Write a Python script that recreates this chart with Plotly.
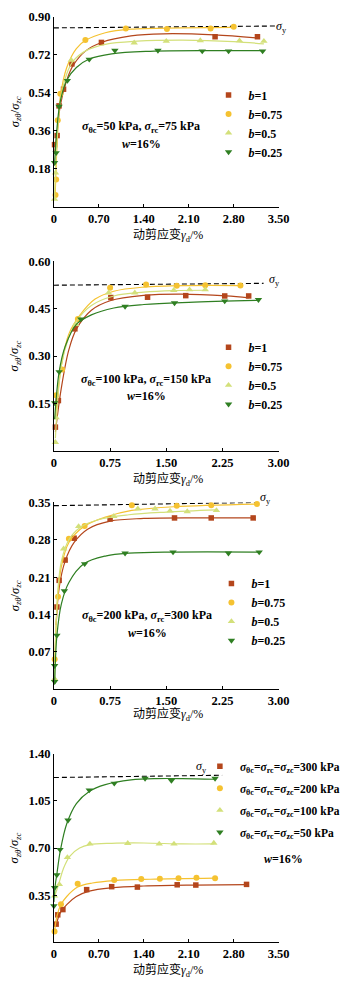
import plotly.graph_objects as go

# ---------------- data ----------------
# Panel 1: sigma_theta_c=50 kPa, sigma_rc=75 kPa
p1_b1_x = [0.01, 0.05, 0.08, 0.15, 0.28, 0.74, 2.51, 3.17]
p1_b1_y = [0.294, 0.337, 0.478, 0.557, 0.677, 0.779, 0.806, 0.806]
p1_b075_x = [0.025, 0.035, 0.06, 0.10, 0.49, 1.12, 1.76, 2.44, 2.80]
p1_b075_y = [0.055, 0.129, 0.41, 0.535, 0.79, 0.845, 0.843, 0.845, 0.853]
p1_b05_x = [0.01, 0.025, 0.27, 1.25, 1.75, 2.28, 2.89, 3.27]
p1_b05_y = [0.035, 0.16, 0.695, 0.777, 0.785, 0.788, 0.787, 0.785]
p1_b025_x = [0.01, 0.035, 0.08, 0.21, 0.55, 0.95, 1.62, 2.31, 2.72, 3.25]
p1_b025_y = [0.208, 0.255, 0.475, 0.598, 0.699, 0.741, 0.741, 0.738, 0.738, 0.738]
p1_fit_b1_x = [0.01, 0.05, 0.1, 0.2, 0.3, 0.5, 0.75, 1.2, 1.7, 2.5, 3.17]
p1_fit_b1_y = [0.25, 0.35, 0.48, 0.6, 0.67, 0.74, 0.78, 0.81, 0.82, 0.815, 0.80]
p1_fit_b075_x = [0.02, 0.05, 0.1, 0.2, 0.35, 0.5, 0.8, 1.2, 2.0, 2.8]
p1_fit_b075_y = [0.05, 0.3, 0.52, 0.66, 0.75, 0.79, 0.825, 0.842, 0.848, 0.85]
p1_fit_b05_x = [0.01, 0.05, 0.1, 0.2, 0.3, 0.5, 0.8, 1.3, 2.0, 2.8, 3.27]
p1_fit_b05_y = [0.04, 0.33, 0.5, 0.63, 0.69, 0.74, 0.77, 0.785, 0.79, 0.783, 0.772]
p1_fit_b025_x = [0.01, 0.05, 0.1, 0.2, 0.35, 0.55, 0.9, 1.5, 2.5, 3.25]
p1_fit_b025_y = [0.2, 0.38, 0.5, 0.6, 0.66, 0.70, 0.725, 0.737, 0.74, 0.74]
p1_sy_x = [0.0, 3.5]
p1_sy_y = [0.848, 0.857]

# Panel 2: sigma_theta_c=100 kPa, sigma_rc=150 kPa
p2_b1_x = [0.02, 0.06, 0.28, 0.76, 1.25, 1.76, 2.28, 2.60]
p2_b1_y = [0.075, 0.159, 0.386, 0.485, 0.486, 0.491, 0.490, 0.490]
p2_b075_x = [0.03, 0.11, 0.32, 0.75, 1.23, 1.64, 2.02, 2.49]
p2_b075_y = [0.176, 0.257, 0.417, 0.516, 0.526, 0.522, 0.524, 0.523]
p2_b05_x = [0.02, 0.03, 0.29, 0.73, 1.08, 1.60, 1.81, 2.02]
p2_b05_y = [0.027, 0.105, 0.40, 0.50, 0.50, 0.508, 0.51, 0.51]
p2_b025_x = [0.01, 0.07, 0.36, 0.95, 1.61, 2.28, 2.73]
p2_b025_y = [0.152, 0.25, 0.417, 0.457, 0.468, 0.474, 0.478]
p2_fit_b1_x = [0.02, 0.1, 0.2, 0.3, 0.5, 0.75, 1.2, 1.7, 2.3, 2.6]
p2_fit_b1_y = [0.06, 0.2, 0.32, 0.385, 0.445, 0.475, 0.492, 0.496, 0.49, 0.484]
p2_fit_b075_x = [0.02, 0.1, 0.2, 0.35, 0.55, 0.8, 1.2, 1.8, 2.49]
p2_fit_b075_y = [0.1, 0.27, 0.37, 0.43, 0.48, 0.505, 0.518, 0.523, 0.523]
p2_fit_b05_x = [0.02, 0.1, 0.2, 0.3, 0.5, 0.8, 1.2, 1.6, 2.02]
p2_fit_b05_y = [0.04, 0.27, 0.36, 0.41, 0.46, 0.49, 0.502, 0.507, 0.508]
p2_fit_b025_x = [0.01, 0.07, 0.15, 0.3, 0.5, 0.8, 1.2, 1.8, 2.73]
p2_fit_b025_y = [0.1, 0.25, 0.33, 0.4, 0.43, 0.452, 0.463, 0.47, 0.476]
p2_sy_x = [0.0, 2.8]
p2_sy_y = [0.524, 0.530]

# Panel 3: sigma_theta_c=200 kPa, sigma_rc=300 kPa
p3_b1_x = [0.04, 0.07, 0.15, 0.27, 0.75, 1.61, 2.10, 2.66]
p3_b1_y = [0.154, 0.204, 0.242, 0.283, 0.319, 0.321, 0.321, 0.321]
p3_b075_x = [0.01, 0.055, 0.20, 0.41, 1.04, 1.64, 2.10, 2.71]
p3_b075_y = [0.056, 0.173, 0.282, 0.306, 0.345, 0.344, 0.345, 0.347]
p3_b05_x = [0.01, 0.13, 0.33, 0.80, 1.12, 1.35, 1.55, 1.78, 2.17]
p3_b05_y = [0.019, 0.263, 0.305, 0.324, 0.338, 0.338, 0.334, 0.333, 0.335]
p3_b025_x = [0.01, 0.01, 0.04, 0.14, 0.41, 0.95, 1.59, 2.33, 2.74]
p3_b025_y = [0.014, 0.044, 0.101, 0.184, 0.235, 0.255, 0.257, 0.255, 0.257]
p3_fit_b1_x = [0.03, 0.07, 0.15, 0.27, 0.45, 0.75, 1.2, 2.0, 2.66]
p3_fit_b1_y = [0.12, 0.19, 0.24, 0.275, 0.3, 0.315, 0.32, 0.321, 0.321]
p3_fit_b075_x = [0.01, 0.05, 0.1, 0.2, 0.4, 0.7, 1.04, 1.6, 2.71]
p3_fit_b075_y = [0.05, 0.17, 0.23, 0.275, 0.305, 0.323, 0.335, 0.342, 0.347]
p3_fit_b05_x = [0.01, 0.05, 0.1, 0.2, 0.35, 0.6, 1.0, 1.5, 2.17]
p3_fit_b05_y = [0.02, 0.18, 0.24, 0.28, 0.303, 0.318, 0.327, 0.332, 0.336]
p3_fit_b025_x = [0.01, 0.04, 0.1, 0.2, 0.4, 0.7, 1.0, 1.6, 2.74]
p3_fit_b025_y = [0.01, 0.1, 0.16, 0.2, 0.235, 0.25, 0.255, 0.257, 0.257]
p3_sy_x = [0.0, 2.7]
p3_sy_y = [0.344, 0.350]

# Panel 4: isotropic consolidation
p4_300_x = [0.035, 0.06, 0.14, 0.51, 0.90, 1.30, 1.92, 2.21, 3.00]
p4_300_y = [0.135, 0.204, 0.243, 0.391, 0.413, 0.41, 0.427, 0.425, 0.43]
p4_200_x = [0.01, 0.11, 0.37, 0.94, 1.36, 1.65, 1.94, 2.22, 2.51]
p4_200_y = [0.081, 0.283, 0.435, 0.462, 0.469, 0.471, 0.476, 0.48, 0.476]
p4_100_x = [0.01, 0.085, 0.21, 0.56, 1.15, 1.64, 1.87, 2.49]
p4_100_y = [0.344, 0.43, 0.63, 0.73, 0.735, 0.73, 0.73, 0.737]
p4_50_x = [0.0, 0.01, 0.045, 0.095, 0.22, 0.55, 0.94, 1.42, 1.83, 2.51]
p4_50_y = [0.27, 0.405, 0.50, 0.688, 0.906, 1.13, 1.18, 1.216, 1.20, 1.216]
p4_fit_300_x = [0.03, 0.1, 0.2, 0.35, 0.55, 0.9, 1.4, 2.2, 3.0]
p4_fit_300_y = [0.12, 0.22, 0.28, 0.34, 0.38, 0.405, 0.418, 0.425, 0.428]
p4_fit_200_x = [0.01, 0.05, 0.11, 0.2, 0.37, 0.6, 0.94, 1.5, 2.51]
p4_fit_200_y = [0.08, 0.2, 0.28, 0.34, 0.41, 0.44, 0.458, 0.468, 0.476]
p4_fit_100_x = [0.01, 0.08, 0.15, 0.25, 0.4, 0.56, 0.9, 1.4, 2.0, 2.49]
p4_fit_100_y = [0.34, 0.44, 0.55, 0.64, 0.7, 0.725, 0.735, 0.737, 0.73, 0.73]
p4_fit_50_x = [0.0, 0.02, 0.05, 0.1, 0.2, 0.35, 0.55, 0.8, 1.2, 1.6, 2.0, 2.51]
p4_fit_50_y = [0.3, 0.42, 0.52, 0.68, 0.88, 1.03, 1.12, 1.17, 1.205, 1.215, 1.215, 1.21]
p4_sy_x = [0.0, 2.62]
p4_sy_y = [1.223, 1.24]

b_labels = ["<i>b</i>=1", "<i>b</i>=0.75", "<i>b</i>=0.5", "<i>b</i>=0.25"]
p4_labels = ["<i>σ</i><sub>θc</sub>=<i>σ</i><sub>rc</sub>=<i>σ</i><sub>zc</sub>=300 kPa",
             "<i>σ</i><sub>θc</sub>=<i>σ</i><sub>rc</sub>=<i>σ</i><sub>zc</sub>=200 kPa",
             "<i>σ</i><sub>θc</sub>=<i>σ</i><sub>rc</sub>=<i>σ</i><sub>zc</sub>=100 kPa",
             "<i>σ</i><sub>θc</sub>=<i>σ</i><sub>rc</sub>=<i>σ</i><sub>zc</sub>=50 kPa"]

x_ticks_35 = [0, 0.7, 1.4, 2.1, 2.8, 3.5]
x_ticks_30 = [0, 0.75, 1.5, 2.25, 3.0]
y_ticks = [[0.18, 0.36, 0.54, 0.72, 0.90],
           [0.15, 0.30, 0.45, 0.60],
           [0.07, 0.14, 0.21, 0.28, 0.35],
           [0.35, 0.70, 1.05, 1.40]]
x_ranges = [[0, 3.5], [0, 3.0], [0, 3.0], [0, 3.5]]
y_ranges = [[0, 0.90], [0, 0.60], [0, 0.35], [0, 1.40]]
notes = ["<i>σ</i><sub>θc</sub>=50 kPa, <i>σ</i><sub>rc</sub>=75 kPa",
         "<i>σ</i><sub>θc</sub>=100 kPa, <i>σ</i><sub>rc</sub>=150 kPa",
         "<i>σ</i><sub>θc</sub>=200 kPa, <i>σ</i><sub>rc</sub>=300 kPa"]

# ---------------- style ----------------
colors = ["#B4461C", "#F5C231", "#D3E07A", "#2F7F22"]
symbols = ["square", "circle", "triangle-up", "triangle-down"]
msizes = [5.5, 6, 6.5, 6.5]
SERIF = "Liberation Serif, Noto Sans CJK SC"

W, H = 354, 988
x_dom = [53 / W, 287 / W]
pix = [(10, 201), (256, 447), (499, 687), (752, 942)]
y_doms = [[1 - b / H, 1 - t / H] for (t, b) in pix]

fig = go.Figure()

panels = [
    ([(p1_b1_x, p1_b1_y, p1_fit_b1_x, p1_fit_b1_y),
      (p1_b075_x, p1_b075_y, p1_fit_b075_x, p1_fit_b075_y),
      (p1_b05_x, p1_b05_y, p1_fit_b05_x, p1_fit_b05_y),
      (p1_b025_x, p1_b025_y, p1_fit_b025_x, p1_fit_b025_y)], p1_sy_x, p1_sy_y, b_labels),
    ([(p2_b1_x, p2_b1_y, p2_fit_b1_x, p2_fit_b1_y),
      (p2_b075_x, p2_b075_y, p2_fit_b075_x, p2_fit_b075_y),
      (p2_b05_x, p2_b05_y, p2_fit_b05_x, p2_fit_b05_y),
      (p2_b025_x, p2_b025_y, p2_fit_b025_x, p2_fit_b025_y)], p2_sy_x, p2_sy_y, b_labels),
    ([(p3_b1_x, p3_b1_y, p3_fit_b1_x, p3_fit_b1_y),
      (p3_b075_x, p3_b075_y, p3_fit_b075_x, p3_fit_b075_y),
      (p3_b05_x, p3_b05_y, p3_fit_b05_x, p3_fit_b05_y),
      (p3_b025_x, p3_b025_y, p3_fit_b025_x, p3_fit_b025_y)], p3_sy_x, p3_sy_y, b_labels),
    ([(p4_300_x, p4_300_y, p4_fit_300_x, p4_fit_300_y),
      (p4_200_x, p4_200_y, p4_fit_200_x, p4_fit_200_y),
      (p4_100_x, p4_100_y, p4_fit_100_x, p4_fit_100_y),
      (p4_50_x, p4_50_y, p4_fit_50_x, p4_fit_50_y)], p4_sy_x, p4_sy_y, p4_labels),
]

legend_names = ["legend", "legend2", "legend3", "legend4"]

for i, (series, syx, syy, labels) in enumerate(panels):
    xa = "x" if i == 0 else f"x{i+1}"
    ya = "y" if i == 0 else f"y{i+1}"
    fig.add_trace(go.Scatter(x=syx, y=syy, mode="lines", xaxis=xa, yaxis=ya,
                             line=dict(color="black", width=1.1, dash="5px,3px"),
                             showlegend=False, hoverinfo="skip"))
    for j, (mx, my, fx, fy) in enumerate(series):
        fig.add_trace(go.Scatter(x=fx, y=fy, mode="lines", xaxis=xa, yaxis=ya,
                                 line=dict(color=colors[j], width=1.2, shape="spline", smoothing=1.0),
                                 showlegend=False, hoverinfo="skip"))
        fig.add_trace(go.Scatter(x=mx, y=my, mode="markers", xaxis=xa, yaxis=ya,
                                 marker=dict(color=colors[j], symbol=symbols[j], size=msizes[j]),
                                 name=labels[j], legend=legend_names[i],
                                 legendgroup=f"g{i}_{j}", cliponaxis=False))

layout = dict(width=W, height=H, margin=dict(l=0, r=0, t=0, b=0),
              paper_bgcolor="white", plot_bgcolor="white",
              font=dict(family=SERIF, size=12, color="black", weight="bold"))

for i in range(4):
    sfx = "" if i == 0 else str(i + 1)
    xt = x_ticks_35 if i in (0, 3) else x_ticks_30
    xtxt = ["0"] + [f"{v:.2f}" for v in xt[1:]]
    layout["xaxis" + sfx] = dict(domain=x_dom, anchor="y" + sfx, range=x_ranges[i],
                                 tickvals=xt, ticktext=xtxt, showline=True, linecolor="black",
                                 linewidth=1, ticks="inside", ticklen=3, tickcolor="black",
                                 showgrid=False, zeroline=False,
                                 tickfont=dict(family=SERIF, size=12.5, weight="bold"))
    layout["yaxis" + sfx] = dict(domain=y_doms[i], anchor="x" + sfx, range=y_ranges[i],
                                 tickvals=y_ticks[i], ticktext=[f"{v:.2f}" for v in y_ticks[i]],
                                 showline=True, linecolor="black", linewidth=1, ticks="inside",
                                 ticklen=3, tickcolor="black", showgrid=False, zeroline=False,
                                 tickfont=dict(family=SERIF, size=12.5, weight="bold"))

leg_pos = [(214, 74, 0), (214, 328, 0), (217, 566, 0), (205, 750, 3)]
for i, (lx, ly, gap) in enumerate(leg_pos):
    layout[legend_names[i]] = dict(x=lx / W, y=1 - ly / H, xanchor="left", yanchor="top",
                                   bgcolor="rgba(0,0,0,0)", tracegroupgap=gap,
                                   font=dict(family=SERIF, size=12 if i < 3 else 11.5, weight="bold"),
                                   itemsizing="trace")

annotations = []
xlab_y = [230, 476, 713, 970]
ylab_c = [(10 + 201) / 2, (256 + 447) / 2, (499 + 687) / 2, (752 + 942) / 2]
for i in range(4):
    annotations.append(dict(text="动剪应变<i>γ</i><sub>d</sub>/%", x=172 / W, y=1 - xlab_y[i] / H,
                            xref="paper", yref="paper", showarrow=False,
                            xanchor="center", yanchor="middle",
                            font=dict(family=SERIF, size=12, weight="normal")))
    annotations.append(dict(text="<i>σ</i><sub><i>zθ</i></sub>/<i>σ</i><sub><i>zc</i></sub>",
                            x=13 / W, y=1 - ylab_c[i] / H, xref="paper", yref="paper",
                            showarrow=False, textangle=-90, xanchor="center", yanchor="middle",
                            font=dict(family=SERIF, size=12.5, weight="normal")))

sy_lab = [(290, 20), (283, 275), (273, 495), (207, 765)]
for (px, py) in sy_lab:
    annotations.append(dict(text="<i>σ</i><sub>y</sub>", x=px / W, y=1 - py / H,
                            xref="paper", yref="paper", showarrow=False,
                            xanchor="center", yanchor="middle",
                            font=dict(family=SERIF, size=12, weight="normal")))

note_pos = [(1.361, 0.377, 0.295), (1.231, 0.224, 0.173), (1.244, 0.138, 0.105)]
for i, (nx, ny, wy) in enumerate(note_pos):
    sfx = "" if i == 0 else str(i + 1)
    annotations.append(dict(text=notes[i], x=nx, y=ny, xref="x" + sfx, yref="y" + sfx,
                            showarrow=False, xanchor="center", yanchor="middle",
                            font=dict(family=SERIF, size=12, weight="bold")))
    annotations.append(dict(text="<i>w</i>=16%", x=nx, y=wy, xref="x" + sfx, yref="y" + sfx,
                            showarrow=False, xanchor="center", yanchor="middle",
                            font=dict(family=SERIF, size=12, weight="bold")))
annotations.append(dict(text="<i>w</i>=16%", x=292 / W, y=1 - 858 / H, xref="paper", yref="paper",
                        showarrow=False, xanchor="center", yanchor="middle",
                        font=dict(family=SERIF, size=12, weight="bold")))

layout["annotations"] = annotations
fig.update_layout(**layout)
fig.write_html("out.html")
